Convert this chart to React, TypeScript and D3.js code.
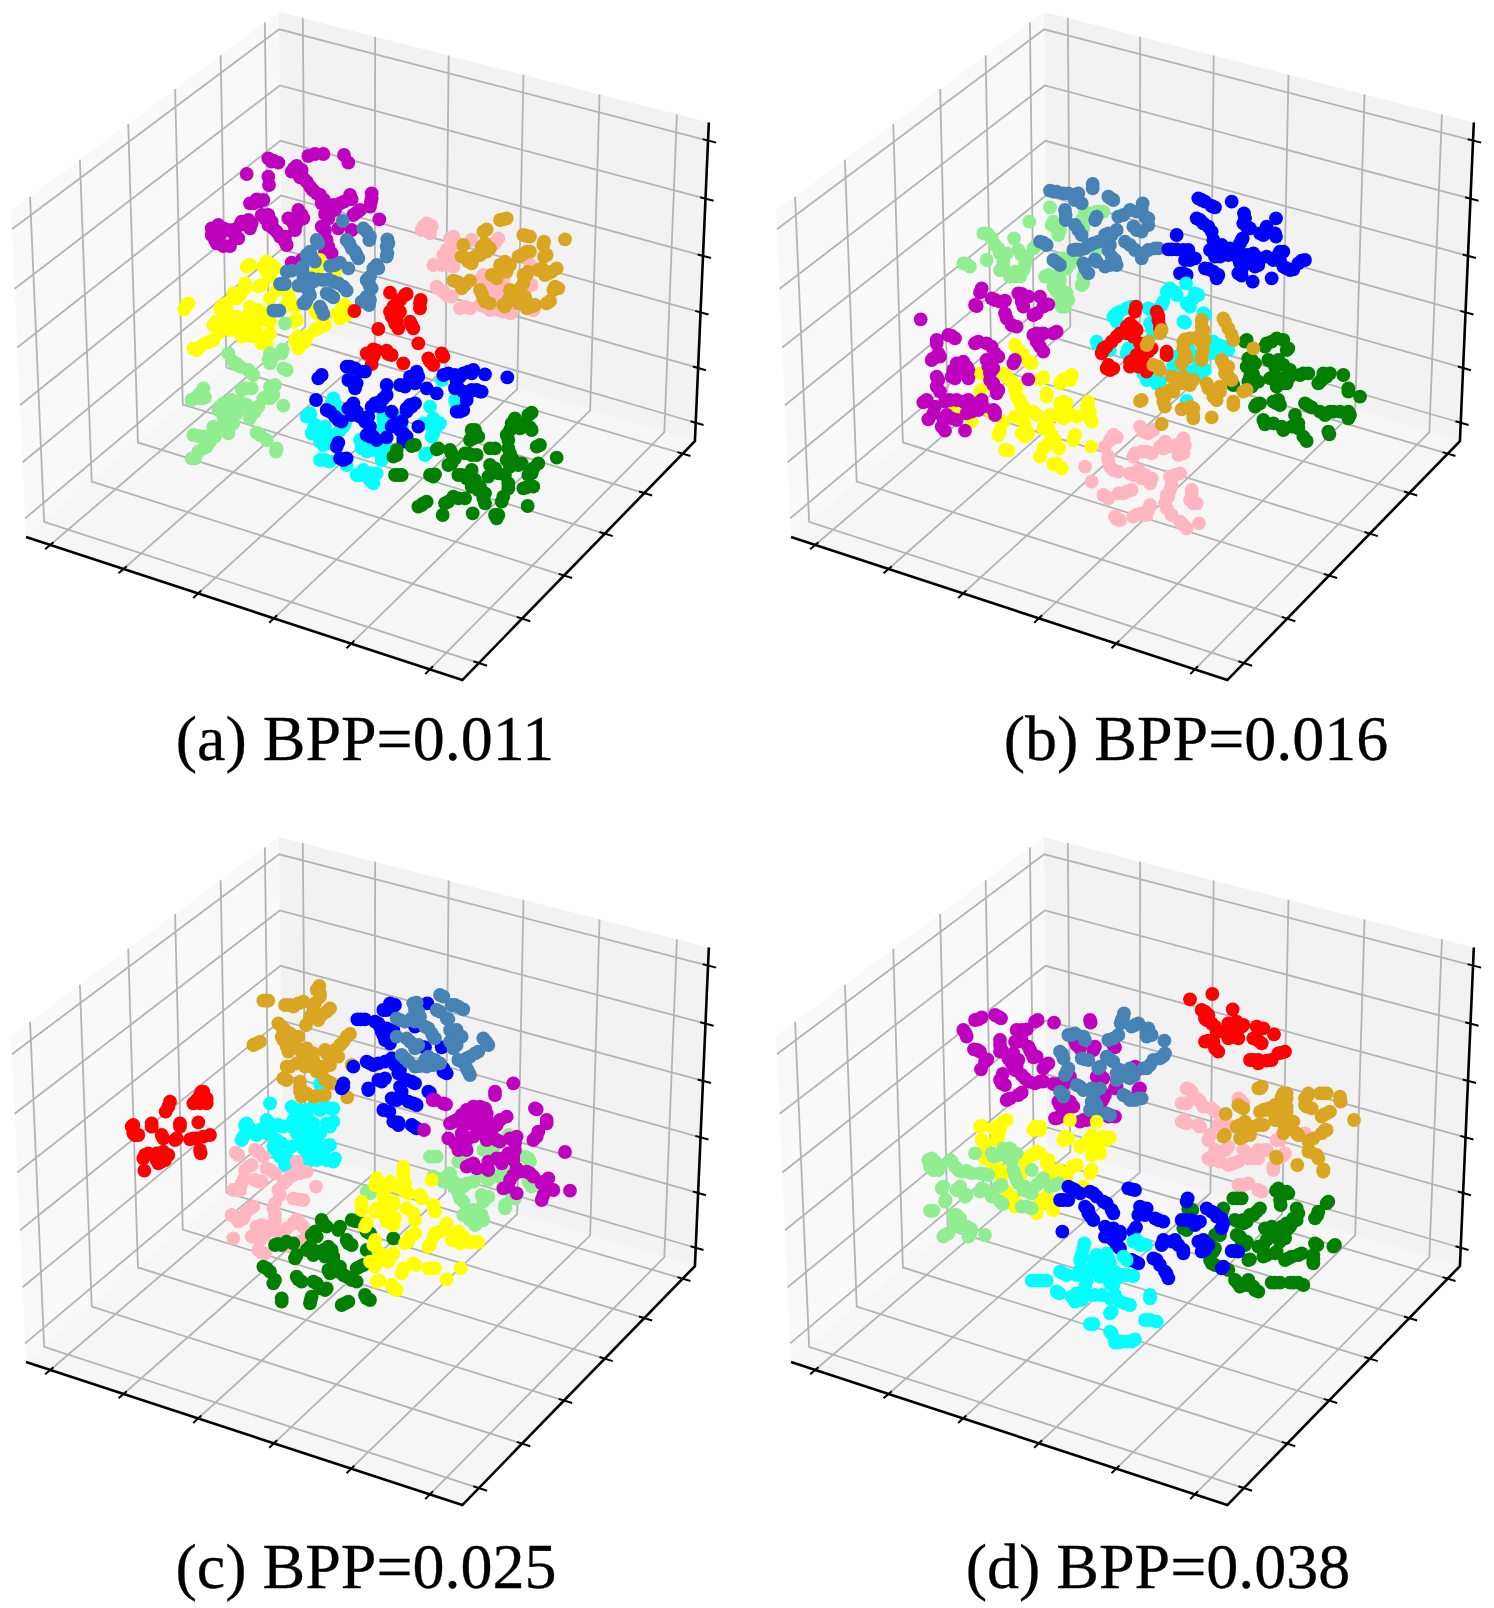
import React from "react";
import * as d3 from "d3";

type Pt = [number, number];

const colors: Record<string, string> = {
  red: "#ff0000",
  blue: "#0000ff",
  cyan: "#00ffff",
  yellow: "#ffff00",
  magenta: "#bf00bf",
  green: "#007f00",
  steel: "#4682b4",
  pink: "#ffb6c1",
  gold: "#daa520",
  lightgreen: "#90ee90",
};

const ticks = [0, 1, 2, 3, 4, 5];

// values, in thirds of a pixel from each panel's read origin
const aMagenta: Pt[] = [[310,62],[325,68],[295,55],[230,102],[295,110],[297,135],[415,48],[435,42],[460,42],[522,45],[535,68],[372,85],[385,100],[400,115],[410,125],[428,150],[450,165],[455,190],[470,205],[490,195],[510,190],[475,235],[540,165],[605,160],[600,200],[560,218],[628,238],[240,190],[270,185],[285,235],[305,245],[320,275],[345,305],[350,315],[380,230],[365,240],[395,225],[375,270],[235,240],[240,265],[210,255],[135,270],[160,265],[140,310],[180,318],[205,295],[465,270],[470,300],[545,270],[505,265],[465,335],[485,340],[365,368],[395,360],[150,285],[190,270],[300,250],[370,250],[305,65],[380,78],[365,95],[395,90],[390,112],[420,140],[440,160],[462,180],[480,215],[465,222],[495,210],[522,185],[545,178],[605,175],[603,185],[570,210],[550,225],[250,190],[260,178],[280,180],[225,245],[245,250],[275,225],[295,225],[310,265],[330,290],[385,210],[400,235],[355,235],[125,265],[125,285],[145,255],[175,270],[215,245],[195,285],[160,318],[135,300],[462,295],[475,320],[455,260],[345,290],[295,255],[380,250]];
const aSteel: Pt[] = [[518,243],[590,275],[598,300],[652,298],[652,340],[650,320],[440,300],[420,335],[435,365],[538,310],[555,335],[565,355],[620,375],[600,410],[598,435],[510,368],[480,378],[535,385],[365,392],[398,380],[400,410],[425,415],[338,432],[395,437],[415,450],[410,480],[460,420],[490,425],[520,440],[480,465],[590,470],[575,485],[597,495],[455,510],[318,512],[405,490],[580,265],[600,290],[655,310],[650,350],[445,310],[410,345],[425,350],[530,300],[545,325],[560,345],[610,385],[625,385],[590,420],[605,445],[495,375],[350,395],[398,395],[330,432],[345,432],[385,437],[405,440],[430,425],[445,418],[475,418],[505,430],[530,452],[470,460],[490,472],[420,465],[400,490],[585,480],[600,480],[450,500],[460,522],[310,512],[328,512]];
const aYellow: Pt[] = [[240,375],[290,365],[290,395],[315,385],[225,430],[275,435],[210,465],[160,495],[55,490],[42,508],[450,360],[495,400],[440,395],[325,445],[360,480],[300,475],[525,495],[510,535],[530,525],[440,520],[465,555],[435,570],[380,540],[375,500],[240,500],[265,510],[200,530],[140,545],[145,580],[180,570],[220,575],[280,540],[300,545],[260,575],[275,610],[290,590],[385,590],[405,605],[385,625],[120,605],[90,620],[70,625],[160,520],[230,530],[190,460],[230,380],[280,380],[305,375],[300,410],[225,445],[265,440],[200,475],[215,455],[170,490],[150,505],[165,540],[50,495],[350,495],[355,465],[515,505],[500,520],[435,510],[455,530],[450,562],[370,545],[250,520],[280,525],[230,550],[260,545],[190,550],[130,555],[155,560],[245,590],[270,590],[290,610],[300,580],[375,600],[410,590],[395,610],[105,610],[130,600],[80,630],[205,540],[215,590],[320,450],[170,515],[290,520]];
const aRed: Pt[] = [[660,458],[710,462],[752,480],[750,505],[680,490],[660,515],[680,530],[685,565],[625,567],[725,555],[553,513],[745,610],[590,640],[610,628],[605,672],[655,642],[665,645],[700,670],[775,655],[790,675],[815,640],[670,500],[690,480],[665,530],[690,515],[675,550],[750,490],[720,545],[730,565],[680,540],[620,632],[650,632],[610,650],[780,665],[820,650],[705,465]];
const aPink: Pt[] = [[770,250],[755,270],[780,280],[850,290],[905,300],[985,295],[830,330],[830,360],[790,375],[850,380],[940,405],[1000,420],[805,445],[830,465],[885,500],[945,500],[985,510],[1022,520],[975,455],[1090,510],[1080,375],[1085,435],[1000,380],[860,310],[760,260],[785,258],[840,295],[820,345],[845,345],[815,375],[840,365],[800,440],[820,455],[845,470],[870,505],[900,505],[930,495],[960,510],[1000,515],[1015,510],[990,445],[965,440],[1095,500],[1005,400],[990,465],[930,420],[975,310]];
const aGold: Pt[] = [[1000,238],[950,268],[1070,288],[1122,305],[1185,298],[880,315],[945,310],[960,325],[930,345],[875,350],[905,370],[1005,365],[1045,350],[1070,335],[1122,350],[1115,385],[1160,385],[1135,400],[1000,380],[975,405],[1070,405],[850,422],[875,445],[900,422],[935,460],[945,485],[1000,495],[1020,450],[1060,430],[1075,490],[1085,500],[1155,440],[1140,483],[1030,470],[1055,470],[990,240],[1010,235],[940,275],[1060,285],[1080,290],[1120,315],[935,320],[950,335],[915,350],[890,355],[895,365],[990,375],[1020,375],[1055,345],[1080,335],[1130,345],[1105,390],[1145,395],[1125,405],[1010,395],[965,405],[980,415],[1060,405],[1075,395],[860,425],[885,435],[870,430],[940,475],[930,450],[960,490],[1010,490],[1025,465],[1050,445],[1065,470],[1070,505],[1095,495],[1150,450],[1165,445],[1130,490],[1015,480],[1005,500],[1045,490]];
const aLightgreen: Pt[] = [[345,550],[175,640],[200,672],[240,695],[300,640],[338,628],[300,670],[340,685],[100,745],[75,775],[105,772],[215,748],[245,745],[315,735],[290,770],[300,775],[340,797],[160,790],[185,780],[230,795],[145,810],[255,815],[240,835],[190,850],[130,860],[175,880],[85,888],[135,890],[110,920],[75,955],[100,925],[260,878],[290,900],[318,935],[170,840],[300,760],[190,665],[210,680],[235,690],[250,705],[295,660],[310,650],[335,640],[350,690],[90,760],[95,775],[65,780],[225,745],[300,740],[280,775],[310,765],[150,800],[175,790],[210,785],[235,810],[265,800],[160,830],[175,820],[155,860],[180,860],[240,815],[125,880],[70,885],[100,890],[120,905],[85,935],[65,955],[270,885],[320,925],[130,880],[200,820]];
const aBlue: Pt[] = [[445,715],[540,680],[585,695],[545,725],[555,745],[650,735],[740,695],[720,725],[705,740],[735,730],[770,745],[800,760],[835,700],[880,700],[910,690],[945,703],[1012,712],[860,725],[880,755],[930,755],[890,780],[870,815],[438,780],[470,810],[505,840],[550,790],[545,825],[585,845],[600,860],[630,785],[650,765],[630,800],[665,815],[710,805],[735,790],[670,855],[695,845],[745,860],[700,880],[700,905],[650,892],[600,890],[620,900],[505,908],[510,955],[900,755],[530,680],[555,685],[570,695],[455,705],[535,720],[560,730],[720,710],[745,710],[690,735],[820,705],[855,705],[895,695],[870,710],[905,700],[865,745],[905,750],[920,750],[935,755],[855,745],[860,815],[880,810],[480,815],[495,830],[515,845],[535,805],[555,810],[570,830],[595,830],[605,800],[615,790],[640,775],[720,795],[710,815],[725,800],[680,850],[665,860],[700,895],[690,870],[710,890],[590,885],[610,890],[500,920],[520,960],[530,955],[560,815]];
const aCyan: Pt[] = [[490,775],[495,790],[420,830],[430,870],[465,860],[465,895],[475,910],[465,960],[530,975],[520,860],[590,935],[630,930],[610,905],[570,900],[585,1005],[610,1030],[570,1005],[605,1000],[765,945],[795,845],[790,835],[760,850],[640,840],[690,840],[785,890],[815,720],[855,780],[640,860],[635,960],[650,920],[515,820],[680,835],[485,790],[420,820],[435,855],[410,830],[425,880],[460,880],[480,885],[450,905],[460,915],[450,960],[480,965],[510,870],[525,850],[575,925],[600,930],[640,925],[660,930],[575,915],[560,1005],[580,990],[600,1020],[620,1000],[800,860],[780,855],[790,880],[770,940],[610,920],[625,935],[780,800],[810,850],[860,800],[640,830],[695,860],[620,900],[530,830]];
const aGreen: Pt[] = [[1085,818],[1035,835],[1020,870],[1015,900],[1080,862],[1055,855],[915,870],[910,895],[905,990],[725,918],[680,945],[685,1005],[795,1003],[790,1010],[800,928],[845,940],[845,970],[895,940],[920,945],[975,925],[1110,915],[1160,953],[1055,970],[1105,970],[1075,1005],[1020,940],[1020,980],[975,985],[955,1010],[875,1005],[905,1040],[925,1050],[945,1060],[945,1090],[1015,1045],[1070,1042],[1073,1098],[995,1085],[865,1075],[835,1085],[770,1085],[755,1095],[818,1125],[908,1120],[980,1135],[985,1000],[1075,825],[1025,850],[1050,865],[1010,885],[1085,870],[925,890],[905,870],[900,900],[910,885],[735,915],[680,930],[670,950],[675,1005],[695,1005],[780,1005],[805,925],[840,930],[855,955],[835,975],[885,940],[905,945],[960,925],[1100,920],[1045,975],[1090,985],[1085,1000],[1015,925],[1010,960],[1030,960],[960,975],[1005,1005],[1015,1030],[930,1040],[915,1020],[890,1015],[940,1075],[1000,1070],[1060,1045],[1090,1040],[850,1070],[885,1075],[760,1090],[745,1100],[985,1125],[975,1125],[825,1090],[865,1005]];

const bSteel: Pt[] = [[578,42],[460,65],[490,70],[520,75],[545,100],[632,85],[497,135],[585,150],[535,180],[728,100],[670,135],[735,140],[710,180],[745,165],[625,190],[650,180],[430,218],[580,220],[530,238],[555,235],[630,225],[690,225],[730,250],[765,235],[470,278],[555,295],[585,268],[630,285],[645,270],[450,62],[470,65],[505,70],[525,90],[535,70],[578,55],[625,80],[640,90],[495,120],[497,150],[590,140],[525,165],[545,195],[725,115],[655,140],[690,120],[710,125],[745,145],[700,170],[725,185],[615,195],[635,195],[420,215],[440,225],[520,240],[540,240],[570,225],[595,215],[625,240],[675,215],[705,240],[745,240],[775,235],[725,265],[460,270],[480,285],[550,280],[565,310],[590,275],[615,290],[650,285],[635,260]];
const bLightgreen: Pt[] = [[450,112],[388,155],[460,155],[480,180],[262,190],[342,205],[295,235],[365,255],[400,235],[200,282],[260,270],[310,290],[345,320],[375,285],[445,315],[480,330],[510,280],[550,340],[600,125],[555,125],[490,265],[470,365],[495,385],[485,410],[550,175],[590,240],[475,195],[250,190],[275,205],[285,225],[300,250],[320,250],[355,240],[380,260],[410,225],[310,275],[300,300],[345,305],[370,300],[330,320],[360,320],[190,280],[210,290],[435,320],[480,310],[500,295],[525,265],[545,345],[550,320],[590,125],[610,125],[460,350],[480,350],[500,370],[480,395],[495,410],[505,390],[470,175],[455,165],[545,150]];
const bBlue: Pt[] = [[905,90],[935,108],[995,95],[1032,130],[1128,145],[900,150],[925,170],[1040,170],[1100,170],[1090,195],[1128,200],[830,195],[1025,210],[940,210],[950,240],[980,240],[960,260],[815,238],[850,240],[855,270],[885,265],[1140,245],[1040,255],[1080,265],[1120,270],[1205,272],[1065,290],[1020,280],[925,297],[955,315],[850,310],[1025,317],[1058,335],[1115,325],[1160,295],[1180,298],[1000,250],[895,85],[915,95],[945,112],[1035,145],[1030,160],[1050,175],[890,145],[910,160],[935,185],[1105,185],[1080,190],[1125,190],[945,225],[930,240],[965,225],[990,235],[1010,240],[945,260],[985,255],[805,238],[830,238],[865,240],[860,265],[870,270],[1150,245],[1135,255],[1060,250],[1100,260],[1140,270],[1015,265],[1050,280],[1075,285],[1215,270],[1195,280],[940,305],[915,295],[950,325],[840,310],[860,315],[1015,310],[1025,300],[1150,290],[1170,300],[1028,205],[1020,220]];
const bCyan: Pt[] = [[810,355],[858,340],[790,395],[830,375],[885,370],[870,410],[855,458],[650,430],[680,415],[755,420],[915,435],[595,525],[630,540],[680,550],[755,470],[940,515],[970,530],[830,560],[870,545],[935,550],[820,600],[850,595],[900,615],[740,630],[770,640],[860,693],[800,365],[820,365],[785,405],[880,385],[860,400],[895,375],[850,455],[640,440],[660,425],[695,410],[745,415],[910,430],[650,455],[590,515],[605,540],[685,535],[760,490],[750,460],[930,520],[955,525],[985,540],[820,585],[840,590],[885,600],[915,600],[745,620],[760,615],[780,635],[730,610],[880,560],[915,540]];
const bRed: Pt[] = [[708,410],[775,438],[690,460],[710,480],[660,490],[635,515],[610,540],[800,545],[745,545],[720,520],[700,570],[620,595],[630,600],[705,575],[690,590],[740,605],[735,585],[780,470],[705,425],[775,450],[680,470],[700,470],[650,500],[700,500],[620,530],[800,555],[730,555],[755,535],[710,555],[605,550],[625,585],[640,595],[690,575],[725,570],[715,590],[745,590],[780,480],[770,425],[610,535],[680,490]];
const bGold: Pt[] = [[905,450],[975,455],[910,480],[995,495],[855,508],[895,500],[915,510],[855,550],[850,570],[905,555],[965,570],[975,590],[780,490],[740,525],[775,590],[985,620],[830,625],[850,620],[870,645],[920,640],[960,665],[950,690],[1000,695],[1040,660],[795,675],[820,665],[720,693],[795,710],[845,718],[880,715],[880,745],[935,742],[785,762],[1060,535],[905,470],[970,445],[985,475],[1000,510],[850,515],[870,505],[905,520],[850,535],[845,580],[860,565],[905,570],[910,540],[970,580],[985,590],[785,480],[745,515],[760,585],[780,600],[975,610],[995,630],[815,620],[845,640],[880,630],[925,655],[960,650],[940,680],[1000,705],[1030,665],[810,660],[785,670],[725,690],[790,695],[880,735],[870,710],[795,680],[850,715]];
const bGreen: Pt[] = [[1040,510],[1100,520],[1130,505],[1160,540],[1055,570],[1115,575],[1150,585],[1055,600],[1050,620],[1065,630],[1120,620],[1150,640],[1210,610],[1170,620],[1130,650],[1280,620],[1260,635],[1330,615],[1345,665],[1070,703],[1130,700],[1225,707],[1275,735],[1300,725],[1350,735],[1185,735],[1195,760],[1095,763],[1150,780],[1220,813],[1288,793],[1000,645],[1380,680],[1055,650],[1170,600],[1035,515],[1095,530],[1115,515],[1150,510],[1165,535],[1045,565],[1065,580],[1105,570],[1125,590],[1135,570],[1040,590],[1060,615],[1045,635],[1075,635],[1110,625],[1140,625],[1160,640],[1200,615],[1225,610],[1150,625],[1270,610],[1290,610],[1265,630],[1255,640],[1345,655],[1065,710],[1080,700],[1120,695],[1135,690],[1140,705],[1215,700],[1235,712],[1260,725],[1290,725],[1320,725],[1345,725],[1345,745],[1090,750],[1120,760],[1145,770],[1175,770],[1195,775],[1210,800],[1285,785]];
const bMagenta: Pt[] = [[240,368],[230,408],[285,390],[315,392],[365,372],[420,380],[445,403],[410,430],[370,410],[320,445],[350,470],[62,448],[155,498],[110,520],[100,565],[225,520],[260,520],[285,550],[400,495],[470,485],[420,530],[430,490],[345,570],[175,585],[200,590],[265,590],[110,620],[165,625],[205,600],[270,610],[385,628],[120,665],[295,660],[70,697],[105,710],[150,690],[190,695],[245,690],[85,748],[140,735],[170,750],[215,725],[135,782],[195,782],[285,735],[115,550],[245,355],[225,405],[275,385],[300,395],[355,370],[385,380],[430,410],[400,435],[365,395],[315,430],[335,465],[110,510],[145,495],[165,505],[95,570],[120,560],[235,515],[275,530],[295,560],[410,490],[460,490],[410,515],[430,545],[415,505],[340,580],[170,580],[190,575],[260,570],[280,595],[160,600],[270,630],[280,640],[115,630],[110,650],[180,600],[290,670],[280,645],[80,690],[135,695],[170,690],[205,690],[230,700],[100,730],[130,745],[155,745],[200,730],[235,720],[250,710],[280,720],[125,770],[285,725],[155,620],[205,625]];
const bYellow: Pt[] = [[345,525],[385,575],[310,610],[420,628],[490,628],[515,615],[345,660],[440,670],[360,700],[490,695],[565,695],[400,725],[450,735],[500,740],[560,735],[575,755],[310,755],[365,745],[430,775],[295,795],[375,800],[465,810],[520,810],[440,825],[478,835],[573,830],[325,842],[420,860],[460,882],[485,895],[240,665],[165,720],[215,755],[275,730],[240,610],[355,540],[370,555],[395,580],[320,620],[335,635],[350,650],[430,622],[480,640],[510,630],[350,680],[360,690],[440,680],[370,710],[480,700],[500,700],[560,710],[570,725],[385,725],[410,735],[440,745],[470,735],[490,745],[515,735],[530,740],[570,745],[345,740],[375,765],[445,770],[300,780],[365,790],[385,790],[455,795],[525,795],[430,835],[315,840],[470,880],[165,730],[245,660]];
const bPink: Pt[] = [[720,770],[745,790],[650,802],[630,810],[625,870],[640,900],[555,890],[575,935],[705,850],[740,845],[780,830],[805,830],[850,805],[835,855],[700,915],[725,925],[750,940],[825,915],[810,960],[610,975],[655,970],[695,960],[875,960],[880,1000],[750,1005],[710,1035],[740,1035],[800,1015],[815,1035],[650,1047],[850,1065],[897,1060],[805,980],[730,785],[760,780],[640,795],[615,830],[625,860],[630,890],[655,905],[700,860],[725,845],[755,850],[790,835],[795,815],[830,825],[855,825],[850,850],[690,910],[715,900],[735,915],[755,925],[810,920],[840,910],[800,975],[815,945],[625,985],[670,970],[680,965],[875,975],[870,990],[890,1000],[745,1020],[725,1030],[700,1040],[795,1000],[645,1040],[660,1050],[840,1055],[860,1075]];

const cGold: Pt[] = [[658,78],[660,110],[498,122],[570,135],[595,130],[640,150],[680,155],[655,180],[618,195],[545,200],[570,220],[595,230],[550,240],[470,250],[750,222],[730,245],[705,270],[680,280],[565,275],[620,265],[630,295],[570,320],[615,320],[650,335],[690,315],[755,315],[560,360],[600,380],[685,365],[605,410],[650,408],[675,405],[742,412],[640,300],[650,90],[660,100],[645,130],[665,165],[690,145],[630,170],[555,135],[580,140],[610,125],[490,122],[505,122],[535,190],[555,210],[545,230],[560,250],[580,240],[460,255],[480,245],[740,230],[720,255],[690,280],[675,270],[715,290],[560,260],[600,270],[610,285],[640,280],[590,310],[635,320],[665,320],[690,300],[665,335],[600,395],[620,400],[600,365],[640,410],[550,355],[695,370],[675,360],[560,320]];
const cBlue: Pt[] = [[880,140],[860,150],[782,178],[982,130],[835,190],[860,205],[880,210],[850,225],[870,250],[945,200],[975,262],[1025,262],[810,310],[835,310],[875,295],[900,330],[935,365],[845,365],[730,380],[805,390],[905,395],[875,415],[940,430],[990,398],[1030,335],[868,455],[895,487],[942,500],[760,320],[870,130],[885,135],[850,150],[772,178],[795,178],[825,185],[840,200],[845,215],[855,240],[880,225],[965,260],[800,305],[820,315],[855,305],[885,315],[895,340],[920,360],[945,370],[855,355],[835,360],[730,370],[725,385],[805,385],[900,380],[890,420],[905,410],[925,425],[950,435],[985,395],[1030,325],[1040,340],[895,495],[880,485],[935,495],[950,505],[850,450]];
const cSteel: Pt[] = [[1030,110],[950,128],[1065,135],[1090,148],[1010,150],[1045,178],[955,155],[900,180],[935,175],[985,205],[1060,220],[1075,225],[920,235],[1000,230],[945,265],[1070,255],[1158,245],[1135,275],[1110,290],[1075,300],[915,295],[985,290],[960,318],[1000,315],[1105,335],[890,230],[1020,105],[940,130],[1055,135],[1075,140],[1020,155],[1040,175],[945,150],[960,170],[890,175],[915,185],[945,185],[975,200],[995,220],[1050,210],[1070,210],[1065,235],[1050,245],[1085,230],[930,245],[955,255],[1060,265],[1150,235],[1165,255],[1125,280],[1100,295],[1085,305],[905,285],[925,305],[975,300],[1005,300],[945,320],[980,320],[1020,310],[1110,345],[1100,325],[1005,235]];
const cMagenta: Pt[] = [[1240,370],[1185,395],[998,420],[1038,433],[1310,448],[1340,490],[1315,515],[1300,540],[972,510],[1130,445],[1100,450],[1160,460],[1060,485],[1110,490],[1220,470],[1190,495],[1140,520],[1045,535],[1100,540],[1075,570],[1190,540],[1250,530],[1245,570],[1395,576],[1210,595],[1165,605],[1110,615],[1130,625],[1240,600],[1260,635],[1290,640],[1345,655],[1210,685],[1250,700],[1325,670],[1360,690],[1410,692],[1325,720],[1230,660],[1165,630],[1130,480],[1185,405],[1005,420],[1030,430],[1305,445],[1340,480],[1310,530],[1120,440],[1140,440],[1155,445],[1085,465],[1110,465],[1125,465],[1160,475],[1070,480],[1050,490],[1090,500],[1130,500],[1175,510],[1200,480],[1085,520],[1120,530],[1160,540],[1200,545],[1230,535],[1065,550],[1085,560],[1100,570],[1245,550],[1225,580],[1190,595],[1205,610],[1240,585],[1100,620],[1120,610],[1160,625],[1250,625],[1280,635],[1300,650],[1330,665],[1345,685],[1225,680],[1330,705],[1240,645],[1150,490]];
const cLightgreen: Pt[] = [[1000,590],[1285,595],[1165,565],[1075,605],[1205,640],[1040,650],[1000,650],[1100,670],[1060,680],[1295,680],[1080,715],[1155,715],[1245,715],[1215,745],[1090,765],[1130,760],[1150,780],[1125,795],[1225,525],[1180,600],[810,700],[1150,650],[990,590],[1010,590],[1275,590],[1290,605],[1150,570],[1180,570],[1085,605],[1215,635],[1195,650],[1050,640],[1030,665],[1060,665],[1090,680],[1120,665],[1075,700],[1090,725],[1145,705],[1165,710],[1150,725],[1235,705],[1215,735],[1100,760],[1120,750],[1145,765],[1135,785],[1110,780],[1165,660],[1285,665],[800,695]];
const cRed: Pt[] = [[305,395],[290,420],[320,430],[210,425],[197,455],[155,490],[100,495],[105,525],[185,525],[240,490],[295,487],[230,535],[280,535],[330,525],[302,580],[135,585],[180,590],[205,585],[185,605],[133,632],[300,405],[310,395],[280,430],[300,430],[320,415],[205,440],[155,500],[95,500],[100,520],[115,525],[190,535],[240,500],[225,540],[270,538],[290,535],[310,530],[145,580],[130,595],[170,600],[195,600],[190,575],[170,580],[300,570],[175,610]];
const cCyan: Pt[] = [[660,372],[510,430],[580,445],[620,450],[690,445],[440,490],[510,490],[550,500],[600,490],[700,485],[470,525],[425,540],[590,520],[640,520],[530,540],[600,545],[680,560],[530,575],[560,590],[650,585],[705,595],[680,600],[620,470],[570,610],[665,370],[575,440],[600,450],[640,440],[660,450],[675,440],[700,445],[435,495],[450,505],[500,480],[520,500],[535,495],[580,480],[620,490],[640,490],[680,490],[690,500],[480,510],[500,520],[430,530],[575,500],[610,515],[630,540],[660,520],[520,560],[545,550],[575,560],[610,565],[630,560],[660,560],[690,555],[540,590],[625,595],[650,600],[700,605],[555,615],[620,610],[670,590]];
const cPink: Pt[] = [[407,578],[475,575],[445,620],[510,630],[590,605],[475,665],[425,670],[410,690],[570,650],[620,635],[648,680],[535,690],[595,718],[525,730],[450,745],[405,770],[430,775],[525,765],[485,795],[580,790],[400,835],[455,830],[495,825],[545,815],[615,840],[485,878],[570,860],[610,800],[415,585],[465,570],[490,590],[435,630],[455,615],[500,625],[525,640],[595,625],[485,665],[465,660],[430,660],[400,690],[420,690],[560,660],[580,645],[600,640],[550,670],[540,705],[580,715],[610,720],[520,745],[440,755],[460,740],[395,765],[415,785],[525,780],[470,800],[495,800],[560,805],[590,780],[600,790],[620,830],[600,845],[470,825],[480,840],[475,870],[495,880],[575,855],[530,815],[430,770]];
const cGreen: Pt[] = [[765,783],[670,790],[720,800],[645,815],[800,815],[745,850],[535,852],[560,845],[590,885],[630,860],[685,860],[700,890],[880,835],[640,885],[780,920],[500,925],[525,960],[595,958],[700,930],[740,950],[770,965],[650,970],[680,985],[545,1015],[632,1020],[735,1030],[800,1015],[720,920],[800,870],[755,780],[775,785],[665,780],[680,800],[715,810],[635,825],[650,830],[810,820],[740,840],[755,855],[525,855],[545,855],[580,850],[620,870],[640,870],[670,870],[695,870],[690,880],[675,890],[700,905],[585,895],[770,925],[790,915],[490,920],[510,935],[520,970],[590,950],[605,965],[690,940],[715,935],[730,945],[755,960],[640,965],[660,985],[675,990],[545,1025],[630,1030],[635,1010],[725,1035],[745,1025],[795,1005],[810,1020],[685,930]];
const cYellow: Pt[] = [[910,630],[828,662],[870,665],[995,660],[850,695],[910,690],[960,705],[785,735],[830,745],[880,735],[940,760],[1000,745],[800,790],[855,770],[885,775],[1040,790],[930,830],[1005,820],[1060,825],[1090,830],[1135,847],[990,855],[825,840],[850,885],[810,905],[870,890],[910,925],[940,910],[995,925],[1082,925],[1040,958],[838,962],[880,985],[915,850],[910,620],[910,650],[830,655],[825,675],[865,680],[850,680],[850,710],[895,680],[915,670],[925,700],[965,715],[785,725],[785,750],[825,755],[840,745],[880,725],[865,745],[920,745],[945,780],[1000,735],[1005,755],[795,800],[860,785],[880,795],[1035,805],[945,820],[925,845],[1000,830],[1020,815],[1075,815],[1055,840],[1080,850],[1110,847],[1125,845],[985,860],[820,855],[835,875],[840,900],[865,905],[825,920],[880,880],[905,940],[945,915],[985,925],[1005,925],[875,975],[890,990],[830,965]];

const dRed: Pt[] = [[870,88],[937,72],[998,118],[915,125],[915,145],[945,170],[1000,165],[1025,170],[1000,200],[970,185],[925,212],[955,245],[1080,175],[1122,193],[1075,212],[1145,248],[1060,270],[1100,272],[905,120],[925,135],[920,150],[935,160],[950,185],[985,160],[1010,155],[1030,165],[990,185],[1010,190],[985,205],[1015,205],[915,215],[940,215],[945,235],[1070,170],[1090,175],[1060,205],[1085,220],[1135,250],[1155,245],[1050,270],[1075,270],[1115,270],[1075,280]];
const dMagenta: Pt[] = [[235,148],[295,140],[413,150],[462,158],[572,158],[197,190],[365,180],[355,215],[300,225],[300,245],[232,240],[262,268],[243,298],[340,265],[350,290],[390,240],[400,262],[438,285],[375,325],[308,312],[305,340],[420,335],[330,385],[365,368],[475,342],[505,330],[480,405],[510,410],[470,445],[550,450],[635,438],[610,385],[585,230],[645,232],[530,225],[600,315],[715,360],[650,350],[710,300],[490,375],[225,150],[245,142],[285,135],[303,145],[405,155],[190,180],[200,200],[350,180],[380,178],[345,215],[365,210],[300,210],[305,240],[222,238],[240,245],[255,275],[325,265],[335,280],[345,300],[355,270],[385,230],[395,250],[410,260],[430,295],[445,280],[365,315],[385,335],[300,330],[315,345],[405,340],[430,335],[320,390],[355,375],[460,342],[490,345],[510,320],[475,395],[490,420],[520,410],[465,445],[480,440],[540,455],[560,450],[625,440],[645,440],[605,395],[615,375],[580,240],[640,225],[525,215],[540,235],[590,320],[610,325],[720,355],[645,355],[705,290],[490,385],[510,395],[570,150],[340,250]];
const dSteel: Pt[] = [[670,140],[662,160],[705,165],[745,175],[740,200],[793,212],[515,195],[550,200],[640,205],[487,252],[555,268],[630,268],[600,290],[790,258],[760,270],[740,295],[500,305],[660,300],[690,295],[650,330],[690,325],[540,350],[590,360],[487,370],[580,385],[580,415],[620,430],[680,380],[715,385],[665,150],[672,130],[695,170],[715,160],[740,185],[755,195],[505,195],[525,190],[555,210],[625,210],[655,195],[480,245],[490,265],[545,265],[565,270],[620,260],[640,275],[595,295],[780,265],[795,250],[750,285],[730,295],[495,315],[505,295],[650,310],[670,305],[680,320],[700,320],[530,345],[550,360],[575,355],[600,355],[480,365],[490,380],[575,395],[590,405],[570,420],[605,430],[630,435],[670,375],[690,390],[705,390],[725,385]];
const dPink: Pt[] = [[868,358],[853,400],[852,450],[900,395],[900,470],[945,425],[1020,390],[965,470],[930,495],[975,540],[960,575],[935,570],[1000,580],[1040,550],[1075,565],[1095,540],[1150,555],[1120,600],[1030,645],[1085,665],[1000,470],[1140,510],[1215,490],[860,355],[875,365],[845,400],[860,400],[890,385],[910,410],[845,455],[860,460],[895,465],[935,415],[1015,385],[1030,400],[955,465],[975,470],[925,510],[945,540],[965,545],[985,530],[950,570],[925,565],[985,585],[1015,575],[1030,540],[1045,565],[1060,565],[1075,540],[1100,540],[1145,560],[1155,550],[1120,590],[1015,645],[1045,640],[1075,660],[1010,470],[1130,510],[1205,495]];
const dGold: Pt[] = [[1080,355],[1150,370],[1160,385],[1222,378],[1270,370],[1320,380],[1322,395],[1220,410],[1362,450],[1020,410],[977,432],[1090,420],[1125,410],[1270,435],[1290,425],[1020,465],[1075,465],[1130,440],[1155,470],[1180,455],[975,495],[1030,500],[1190,490],[1275,480],[1230,510],[1230,545],[1250,555],[1128,560],[1192,585],[1270,598],[1050,495],[1160,425],[1075,355],[1085,350],[1145,380],[1160,370],[1215,385],[1225,370],[1260,370],[1280,370],[1320,390],[1215,405],[1235,415],[1015,405],[1030,415],[1080,425],[1105,420],[1125,405],[1140,410],[1265,440],[1280,430],[1010,470],[1035,455],[1060,470],[1090,465],[1125,450],[1145,455],[1165,465],[1175,475],[970,500],[1020,505],[1045,490],[1195,495],[1150,490],[1265,490],[1280,480],[1225,515],[1240,505],[1225,545],[1255,565],[1130,565],[1270,605],[1160,410],[1105,415]];
const dYellow: Pt[] = [[320,450],[290,470],[245,468],[250,515],[295,500],[405,470],[420,470],[495,500],[630,503],[575,495],[590,525],[540,530],[600,550],[575,600],[520,590],[265,570],[295,600],[410,545],[375,575],[445,570],[460,610],[490,615],[335,680],[345,710],[410,730],[425,690],[455,710],[510,450],[590,455],[550,650],[310,455],[280,475],[240,470],[300,480],[245,510],[255,525],[290,510],[400,480],[420,480],[490,510],[505,505],[620,510],[570,505],[585,535],[555,520],[595,545],[575,555],[570,610],[530,585],[255,565],[285,590],[310,605],[420,550],[395,555],[380,590],[365,565],[440,580],[455,600],[475,600],[440,620],[320,665],[330,695],[350,700],[410,720],[420,700],[440,680],[460,720],[500,620],[515,590],[580,515],[610,500],[305,620],[360,620]];
const dLightgreen: Pt[] = [[95,565],[90,590],[115,600],[155,575],[175,600],[200,603],[225,550],[255,612],[280,560],[325,540],[340,600],[350,630],[130,650],[180,650],[200,675],[245,655],[275,680],[305,645],[137,690],[95,722],[308,702],[370,660],[425,630],[465,645],[380,710],[170,735],[175,770],[210,775],[135,795],[210,795],[255,795],[395,600],[85,570],[105,575],[100,600],[120,590],[150,570],[165,590],[185,605],[215,610],[240,610],[265,615],[275,550],[295,555],[310,535],[330,535],[350,550],[320,560],[335,575],[345,615],[355,640],[375,650],[395,670],[125,655],[170,660],[195,680],[240,665],[255,660],[295,650],[135,695],[300,695],[385,665],[410,645],[430,625],[450,650],[475,640],[365,710],[395,715],[160,735],[180,745],[165,760],[200,770],[145,790],[215,780],[205,800],[130,800],[90,722],[100,722]];
const dBlue: Pt[] = [[515,655],[490,690],[540,670],[580,670],[610,695],[640,730],[695,658],[565,720],[572,740],[730,715],[725,725],[775,750],[863,685],[860,750],[900,755],[935,725],[965,745],[965,775],[487,785],[625,780],[660,785],[625,800],[655,830],[708,772],[790,810],[825,810],[850,840],[905,820],[915,840],[1005,843],[705,875],[770,870],[800,912],[970,890],[505,650],[525,660],[480,690],[505,690],[570,665],[590,680],[620,700],[635,720],[685,655],[705,660],[565,730],[555,710],[580,750],[720,710],[740,715],[715,735],[735,735],[765,745],[790,755],[860,695],[845,750],[875,750],[885,765],[920,715],[945,730],[970,760],[950,740],[615,770],[640,775],[660,795],[615,800],[640,810],[650,825],[660,835],[700,785],[785,825],[815,815],[835,825],[850,850],[895,815],[910,810],[925,825],[905,845],[995,843],[1015,845],[695,870],[715,880],[760,865],[780,885],[795,905],[805,925],[965,895]];
const dCyan: Pt[] = [[553,820],[545,855],[590,855],[620,850],[700,815],[738,825],[680,870],[490,910],[540,900],[590,890],[630,880],[665,915],[700,918],[630,940],[410,932],[440,932],[478,970],[530,970],[525,995],[585,975],[645,975],[675,1000],[750,985],[635,1025],[750,1050],[580,1062],[635,1090],[655,1118],[705,1108],[680,1115],[555,950],[550,835],[540,870],[580,870],[600,870],[625,865],[710,810],[720,825],[670,860],[480,905],[500,915],[530,915],[555,900],[575,905],[610,895],[645,905],[650,925],[680,915],[625,925],[640,945],[395,932],[425,932],[470,965],[515,980],[540,975],[560,975],[605,975],[630,985],[660,995],[690,1005],[750,975],[630,1030],[735,1050],[770,1055],[570,1062],[630,1085],[645,1118],[665,1115],[695,1115],[560,935],[600,920],[545,990]];
const dGreen: Pt[] = [[1128,662],[1165,670],[1012,685],[1142,705],[1190,715],[1280,700],[877,720],[970,715],[1080,715],[1050,735],[1005,750],[1040,755],[1252,735],[1190,750],[1160,760],[1110,775],[1150,790],[1130,800],[1160,780],[1020,800],[1035,825],[1090,825],[1130,845],[860,780],[960,795],[940,845],[935,880],[985,900],[1050,868],[1090,860],[1165,865],[1205,850],[1240,865],[1252,825],[1305,825],[1012,938],[1045,930],[1065,960],[1125,938],[1180,938],[1210,945],[1240,880],[1135,655],[1160,665],[1000,685],[1025,685],[1140,690],[1195,730],[1285,695],[865,718],[965,725],[1070,725],[1060,735],[1030,750],[1015,755],[1245,745],[1255,725],[1180,745],[1170,770],[1145,770],[1115,770],[1095,775],[1130,780],[1175,760],[1150,770],[1155,805],[1140,815],[1010,795],[1025,815],[1040,815],[1075,830],[1100,810],[1125,850],[850,775],[960,780],[945,795],[945,835],[930,870],[945,885],[975,895],[1045,870],[1100,855],[1155,870],[1175,860],[1195,855],[1240,855],[1240,870],[1245,820],[1300,830],[1005,930],[1020,950],[1040,945],[1060,950],[1075,965],[1115,938],[1140,938],[1170,938],[1195,938],[1030,760]];

const panels = [
  { id: "a", dx: 0, dy: 0, cap: "(a) BPP=0.011", capX: 365, capY: 760, read: [170, 140],
    series: [["pink", aPink], ["gold", aGold], ["magenta", aMagenta], ["yellow", aYellow], ["lightgreen", aLightgreen], ["steel", aSteel], ["red", aRed], ["cyan", aCyan], ["blue", aBlue], ["green", aGreen]] },
  { id: "b", dx: 765, dy: 0, cap: "(b) BPP=0.016", capX: 1196, capY: 760, read: [900, 170],
    series: [["pink", bPink], ["lightgreen", bLightgreen], ["steel", bSteel], ["blue", bBlue], ["cyan", bCyan], ["red", bRed], ["green", bGreen], ["gold", bGold], ["yellow", bYellow], ["magenta", bMagenta]] },
  { id: "c", dx: 0, dy: 825, cap: "(c) BPP=0.025", capX: 366, capY: 1588, read: [100, 960],
    series: [["cyan", cCyan], ["gold", cGold], ["blue", cBlue], ["steel", cSteel], ["lightgreen", cLightgreen], ["magenta", cMagenta], ["red", cRed], ["pink", cPink], ["green", cGreen], ["yellow", cYellow]] },
  { id: "d", dx: 765, dy: 825, cap: "(d) BPP=0.038", capX: 1158, capY: 1588, read: [900, 970],
    series: [["red", dRed], ["pink", dPink], ["gold", dGold], ["magenta", dMagenta], ["steel", dSteel], ["yellow", dYellow], ["lightgreen", dLightgreen], ["green", dGreen], ["blue", dBlue], ["cyan", dCyan]] },
] as { id: string; dx: number; dy: number; cap: string; capX: number; capY: number; read: number[]; series: [string, Pt[]][] }[];

// matplotlib's default 3D view: elev 30, azim -60, box aspect 4:4:3, dist 10
const boxX = 1.1429, boxZ = 0.8572;
const toScreenX = d3.scaleLinear().domain([-1, 1]).range([366.4 - 437.5, 366.4 + 437.5]);
const toScreenY = d3.scaleLinear().domain([-1, 1]).range([328 + 441, 328 - 441]);
const top = 0.985; // the panes stop a little under the full box height

function project(x: number, y: number, z: number): Pt {
  const dx = (x - 0.5) * boxX, dy = (y - 0.5) * boxX, dz = (z - 0.5) * boxZ;
  const xv = 0.866 * dx + 0.5 * dy;
  const yv = -0.25 * dx + 0.433 * dy + 0.866 * dz;
  const zv = 0.433 * dx - 0.75 * dy + 0.5 * dz;
  const f = 10 / (10 - zv);
  return [toScreenX(xv * f), toScreenY(yv * f)];
}

const xTick = d3.scaleLinear().domain([0, 5]).range([0.058, 0.929]);
const yTick = d3.scaleLinear().domain([0, 5]).range([0.0655, 0.9428]);
const zTick = d3.scaleLinear().domain([0, 5]).range([0.059, 0.9316]);

const line3 = (pts: [number, number, number][]) => d3.line()(pts.map((p) => project(p[0], p[1], p[2])))!;
const poly3 = (pts: [number, number, number][]) => line3(pts) + "Z";

const Box = () => (
  <g>
    <path d={poly3([[0, 0, 0], [0, 1, 0], [0, 1, top], [0, 0, top]])} fill="#f9f9f9" />
    <path d={poly3([[0, 1, 0], [1, 1, 0], [1, 1, top], [0, 1, top]])} fill="#f2f2f2" />
    <path d={poly3([[0, 0, 0], [1, 0, 0], [1, 1, 0], [0, 1, 0]])} fill="#f6f6f6" />
    <g fill="none" stroke="#b4b4b4" strokeWidth={1.8}>
      {ticks.map((t) => (
        <g key={t}>
          <path d={line3([[xTick(t), 0, 0], [xTick(t), 1, 0], [xTick(t), 1, top]])} />
          <path d={line3([[1, yTick(t), 0], [0, yTick(t), 0], [0, yTick(t), top]])} />
          <path d={line3([[1, 1, zTick(t)], [0, 1, zTick(t)], [0, 0, zTick(t)]])} />
        </g>
      ))}
    </g>
    <g fill="none" stroke="#000" strokeWidth={2.6}>
      <path d={line3([[0, 0, 0], [1, 0, 0], [1, 1, 0], [1, 1, top]])} />
      {ticks.map((t) => (
        <g key={t} strokeWidth={2}>
          <path d={line3([[xTick(t), -0.018, 0], [xTick(t), 0.012, 0]])} />
          <path d={line3([[0.988, yTick(t), 0], [1.018, yTick(t), 0]])} />
          <path d={line3([[0.988, 1, zTick(t)], [1.018, 1, zTick(t)]])} />
        </g>
      ))}
    </g>
  </g>
);

const App = () => (
  <svg width={1494} height={1608} style={{ position: "absolute", left: 0, top: 0, display: "block" }}>
    <defs>
      <filter id="soft" x="-5%" y="-5%" width="110%" height="110%">
        <feGaussianBlur stdDeviation={0.7} />
      </filter>
    </defs>
    <rect width={1494} height={1608} fill="#fff" />
    {panels.map((p) => {
      const px = d3.scaleLinear().domain([0, 3]).range([p.read[0], p.read[0] + 1]);
      const py = d3.scaleLinear().domain([0, 3]).range([p.read[1], p.read[1] + 1]);
      return (
        <g key={p.id}>
          <g filter="url(#soft)">
            <g transform={`translate(${p.dx},${p.dy})`}>
              <Box />
            </g>
            {p.series.map(([name, pts]) => (
              <g key={name} fill={colors[name]}>
                {pts.map((d, i) => (
                  <circle key={i} cx={px(d[0])} cy={py(d[1])} r={6.9} />
                ))}
              </g>
            ))}
          </g>
          <text x={p.capX} y={p.capY} textAnchor="middle" fontFamily="'Liberation Serif'" fontSize={64} fill="#000" stroke="#000" strokeWidth={0.3}>
            {p.cap}
          </text>
        </g>
      );
    })}
  </svg>
);

export default App;
